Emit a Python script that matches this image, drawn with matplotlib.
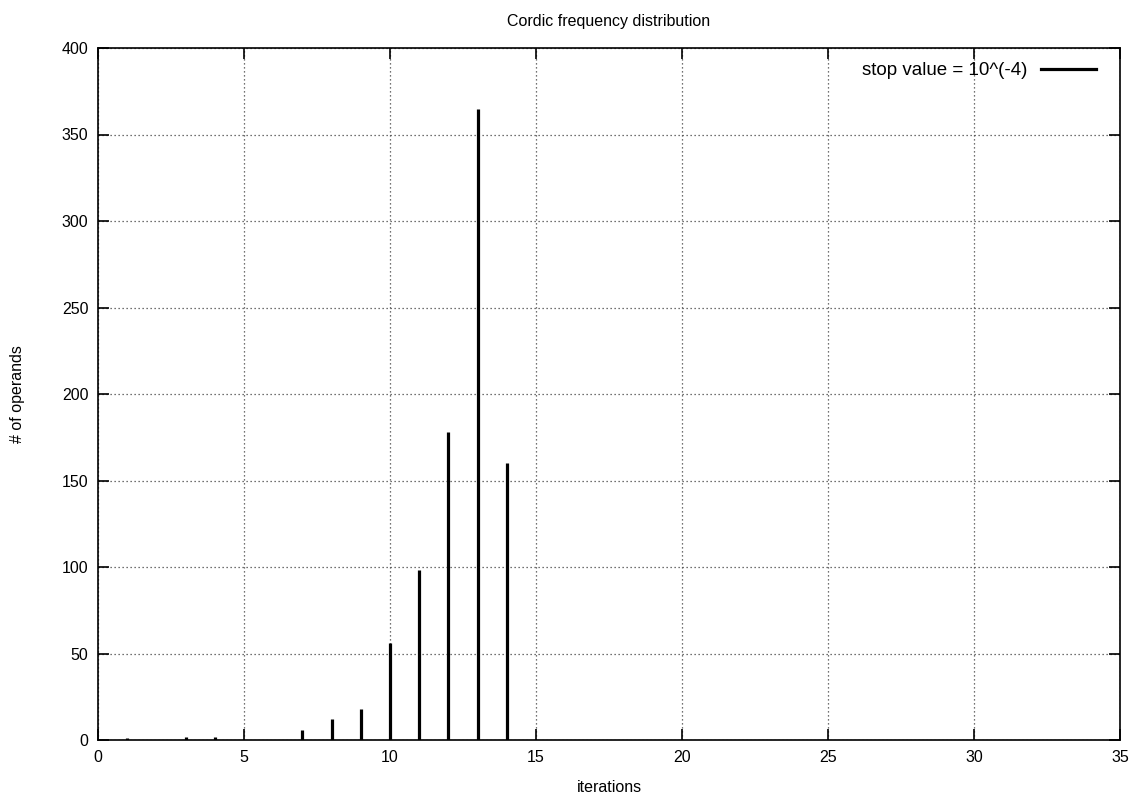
import numpy as np
import matplotlib
matplotlib.use("Agg")
import matplotlib.pyplot as plt
from matplotlib.lines import Line2D

plt.rcParams['font.family'] = ['Liberation Sans', 'DejaVu Sans']

# iterations needed -> number of operands
iterations = [1, 3, 4, 7, 8, 9, 10, 11, 12, 13, 14]
operands = [1, 2, 2, 6, 12, 18, 56, 98, 178, 365, 160]
legend_label = 'stop value = 10^(-4)'

fig = plt.figure(figsize=(11.45, 8.02), dpi=100)
ax = fig.add_axes([98 / 1145, 1 - 740 / 802, (1120 - 98) / 1145, (740 - 48) / 802])

ax.vlines(iterations, 0, operands, colors='black', linewidth=2.3)

ax.set_xlim(0, 35)
ax.set_ylim(0, 400)
ax.set_xticks(range(0, 36, 5))
ax.set_yticks(range(0, 401, 50))
ax.grid(True, color='#444444', linestyle=(0, (1, 2.2)), linewidth=0.9)
ax.tick_params(direction='in', length=8, width=1.2, top=True, right=True,
               labelsize=11.5, pad=7)
for s in ax.spines.values():
    s.set_linewidth(1.2)

ax.set_title('Cordic frequency distribution', fontsize=11.5, pad=16)
ax.set_xlabel('iterations', fontsize=11.5, labelpad=11)
ax.set_ylabel('# of operands', fontsize=11.5, labelpad=26)

handle = Line2D([], [], color='black', linewidth=2.3)
ax.legend([handle], [legend_label], loc='upper right', frameon=False,
          markerfirst=False, fontsize=13.5, handlelength=2.9,
          handletextpad=0.75, borderaxespad=0.4, borderpad=0.35,
          bbox_to_anchor=(0.99, 1.0))

fig.savefig('out.png', dpi=100)
